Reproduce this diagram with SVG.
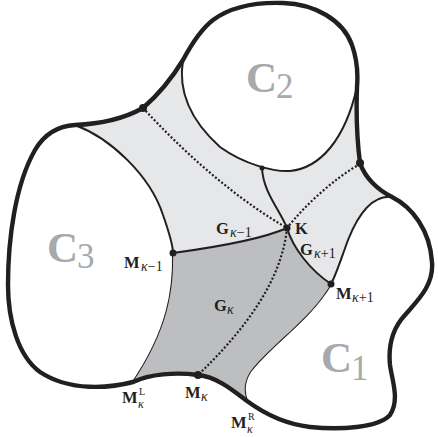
<svg xmlns="http://www.w3.org/2000/svg" width="438" height="437" viewBox="0 0 438 437">
<style>
.bg{fill:#e6e7e8;stroke:none}
.cell{fill:#ffffff;stroke:none}
.dark{fill:#bcbec0;stroke:none}
.thin{fill:none;stroke:#231f20;stroke-width:2;stroke-linecap:round}
.dot{fill:none;stroke:#231f20;stroke-width:2.2;stroke-dasharray:2 2}
.outer{fill:none;stroke:#231f20;stroke-width:4.4;stroke-linejoin:round}
.pt{fill:#231f20}
.big{font-family:"Liberation Serif",serif;font-weight:bold;fill:#a7a9ac;font-size:43px}
.bigsub{font-family:"Liberation Serif",serif;fill:#a7a9ac;font-size:35px}
.lab{font-family:"Liberation Serif",serif;font-weight:bold;fill:#231f20;font-size:16.5px}
.sub{font-family:"Liberation Serif",serif;font-style:italic;fill:#231f20;font-size:14px}
.subn{font-family:"Liberation Serif",serif;font-style:normal;fill:#231f20;font-size:14px}
.sup{font-family:"Liberation Serif",serif;fill:#231f20;font-size:10px}
.subs{font-family:"Liberation Serif",serif;font-style:italic;fill:#231f20;font-size:12px}
</style>
<path class="bg" d="M133,382 C110,388 70,392 40,372 C18,356 8,320 8,285 C8,240 15,185 35,150 C45,133 58,126 75,125 C100,124 125,118 143,108 C158,95 172,78 183,60 C191,45 200,30 213,20 C232,6 255,2 283,3 C315,4 343,20 352,45 C358,62 358,75 357,87 C356,115 357,140 360,163 C365,178 378,190 392,197 C412,207 430,230 432,262 C434,285 418,300 405,315 C393,328 388,345 390,365 C392,380 400,400 390,415 C378,428 340,430 310,427 C285,424 262,412 247,401 C235,392 218,377 198,375 C175,372 150,374 133,382 Z"/>
<g id="C3">
<path class="cell" d="M133,382 C110,388 70,392 40,372 C18,356 8,320 8,285 C8,240 15,185 35,150 C45,133 58,126 75,125 C110,138 150,175 163,215 C170,235 173,245 173,253 C174,290 168,330 133,382 Z"/>
<path class="thin" d="M75,125 C110,138 150,175 163,215 C170,235 173,245 173,253 C174,290 168,330 133,382"/>
<text class="big" x="47" y="262">C</text><text class="bigsub" x="77" y="268">3</text>
</g>
<g id="C2">
<path class="cell" d="M183,60 C191,45 200,30 213,20 C232,6 255,2 283,3 C315,4 343,20 352,45 C358,62 358,75 357,87 C345,140 320,168 290,171 C275,172 245,165 220,147 C190,120 178,90 183,60 Z"/>
<path class="thin" d="M183,60 C178,90 190,120 220,147 C245,165 275,172 290,171 C320,168 345,140 357,87"/>
<text class="big" x="246" y="92">C</text><text class="bigsub" x="276" y="98">2</text>
</g>
<g id="C1">
<path class="cell" d="M392,197 C412,207 430,230 432,262 C434,285 418,300 405,315 C393,328 388,345 390,365 C392,380 400,400 390,415 C378,428 340,430 310,427 C285,424 262,412 247,401 C245,395 242,385 250,372 C270,345 310,320 331,284 C336,275 340,262 348,240 C360,210 375,195 392,197 Z"/>
<path class="thin" d="M392,197 C375,195 360,210 348,240 C340,262 336,275 331,284 C310,320 270,345 250,372 C242,385 245,395 247,401"/>
<text class="big" x="321" y="372">C</text><text class="bigsub" x="351" y="380">1</text>
</g>
<g id="cell-K">
<path class="dark" d="M173,253 C210,248 260,240 287,228 C293,248 310,270 331,284 C310,320 270,345 250,372 C242,385 245,395 247,401 C235,392 218,377 198,375 C175,372 150,374 133,382 C168,330 174,290 173,253 Z"/>
</g>
<g id="connectors">
<path class="thin" d="M173,253 C210,248 260,240 287,228"/>
<path class="thin" d="M262,168 C263,192 280,210 287,228 C293,248 310,270 331,284"/>
<path class="dot" d="M143,108 C180,148 230,195 287,228"/>
<path class="dot" d="M360,164 C335,178 305,205 287,228"/>
<path class="dot" d="M287,228 C282,280 245,330 198,375"/>
</g>
<path class="outer" d="M133,382 C110,388 70,392 40,372 C18,356 8,320 8,285 C8,240 15,185 35,150 C45,133 58,126 75,125 C100,124 125,118 143,108 C158,95 172,78 183,60 C191,45 200,30 213,20 C232,6 255,2 283,3 C315,4 343,20 352,45 C358,62 358,75 357,87 C356,115 357,140 360,163 C365,178 378,190 392,197 C412,207 430,230 432,262 C434,285 418,300 405,315 C393,328 388,345 390,365 C392,380 400,400 390,415 C378,428 340,430 310,427 C285,424 262,412 247,401 C235,392 218,377 198,375 C175,372 150,374 133,382 Z"/>
<g id="P1"><circle class="pt" cx="143" cy="108" r="4"/></g>
<g id="P2"><circle class="pt" cx="360" cy="163" r="4"/></g>
<g id="P3"><circle class="pt" cx="262" cy="168" r="2.5"/></g>
<g id="K"><circle class="pt" cx="287" cy="228" r="3.5"/><text class="lab" x="295" y="234">K</text></g>
<g id="Mk-1"><circle class="pt" cx="173" cy="253" r="3.5"/><text class="lab" x="124" y="268">M</text><text class="sub" x="141" y="271">κ<tspan class="subn">−1</tspan></text></g>
<g id="Mk+1"><circle class="pt" cx="331" cy="284" r="3.5"/><text class="lab" x="336" y="299">M</text><text class="sub" x="352" y="302">κ<tspan class="subn">+1</tspan></text></g>
<g id="Mk"><circle class="pt" cx="198" cy="375" r="4"/><text class="lab" x="185" y="398">M</text><text class="sub" x="201" y="401">κ</text></g>
<g id="MkL"><text class="lab" x="122" y="403">M</text><text class="sup" x="139" y="395">L</text><text class="subs" x="138" y="408">κ</text></g>
<g id="MkR"><text class="lab" x="231" y="428">M</text><text class="sup" x="248" y="420">R</text><text class="subs" x="247" y="433">κ</text></g>
<g id="labels-G">
<text class="lab" x="216" y="234">G</text><text class="sub" x="230" y="237">κ<tspan class="subn">−1</tspan></text>
<text class="lab" x="300" y="255">G</text><text class="sub" x="314" y="258">κ<tspan class="subn">+1</tspan></text>
<text class="lab" x="214" y="311">G</text><text class="sub" x="227" y="314">κ</text>
</g>
</svg>
